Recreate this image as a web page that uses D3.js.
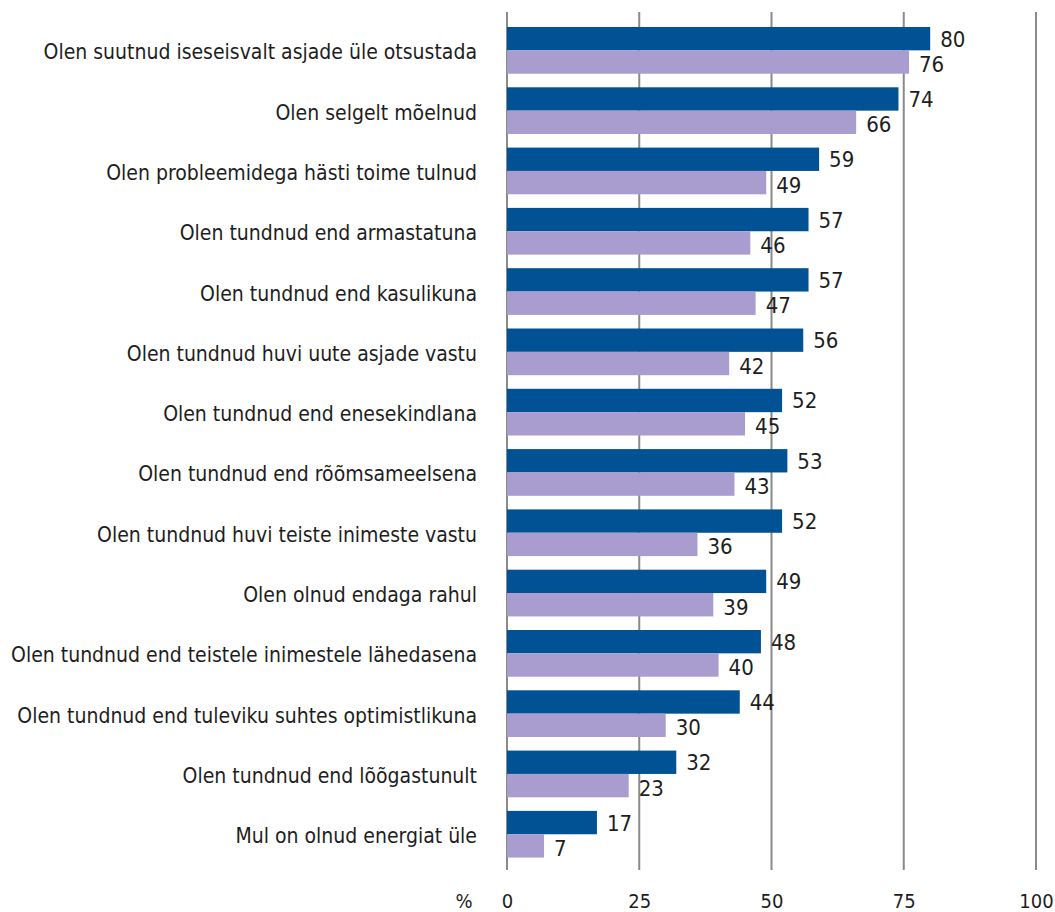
<!DOCTYPE html>
<html>
<head>
<meta charset="utf-8">
<script src="https://cdn.jsdelivr.net/npm/d3@7"></script>
<style>
  html, body { margin: 0; padding: 0; background: #fff; }
  svg text { font-family: "DejaVu Sans Condensed", "Liberation Sans Narrow", "Roboto", sans-serif; fill: #1e1e1e; }
</style>
</head>
<body>
<svg id="chart" width="1055" height="912"></svg>
<script>
// Statements, in display order (top to bottom)
const categories = [
  "Olen suutnud iseseisvalt asjade üle otsustada",
  "Olen selgelt mõelnud",
  "Olen probleemidega hästi toime tulnud",
  "Olen tundnud end armastatuna",
  "Olen tundnud end kasulikuna",
  "Olen tundnud huvi uute asjade vastu",
  "Olen tundnud end enesekindlana",
  "Olen tundnud end rõõmsameelsena",
  "Olen tundnud huvi teiste inimeste vastu",
  "Olen olnud endaga rahul",
  "Olen tundnud end teistele inimestele lähedasena",
  "Olen tundnud end tuleviku suhtes optimistlikuna",
  "Olen tundnud end lõõgastunult",
  "Mul on olnud energiat üle"
];

// Share of respondents (%), first and second group
const valuesA = [80, 74, 59, 57, 57, 56, 52, 53, 52, 49, 48, 44, 32, 17];
const valuesB = [76, 66, 49, 46, 47, 42, 45, 43, 36, 39, 40, 30, 23, 7];

const tickValues = [0, 25, 50, 75, 100];
const axisUnit = "%";

const colors = { A: "#005294", B: "#a99dcf" };

const svg = d3.select("#chart");
const plotTop = 12, plotBottom = 870;
const rowsTop = 27, rowStep = 60.3, pairH = 46.7;

const x = d3.scaleLinear().domain([0, 100]).range([507, 1036]);
const y = d3.scaleBand()
  .domain(categories)
  .range([rowsTop, rowsTop + rowStep * (categories.length - 1) + pairH])
  .paddingInner((rowStep - pairH) / rowStep)
  .paddingOuter(0);

const barH = y.bandwidth() / 2;

// Vertical grid lines
svg.append("g")
  .selectAll("line")
  .data(tickValues)
  .join("line")
  .attr("x1", d => x(d)).attr("x2", d => x(d))
  .attr("y1", plotTop).attr("y2", plotBottom)
  .attr("stroke", "#8a8a8a")
  .attr("stroke-width", 2);

// Bars
const rows = svg.append("g")
  .selectAll("g")
  .data(categories.map((c, i) => ({ c, a: valuesA[i], b: valuesB[i] })))
  .join("g")
  .attr("transform", d => `translate(0,${y(d.c)})`);

rows.append("rect")
  .attr("x", x(0)).attr("y", 0)
  .attr("width", d => x(d.a) - x(0))
  .attr("height", barH)
  .attr("fill", colors.A);

rows.append("rect")
  .attr("x", x(0)).attr("y", barH)
  .attr("width", d => x(d.b) - x(0))
  .attr("height", barH)
  .attr("fill", colors.B);

// Value labels
rows.append("text")
  .attr("x", d => x(d.a) + 10)
  .attr("y", barH / 2 + 2)
  .attr("dominant-baseline", "middle")
  .attr("font-size", 22)
  .text(d => d.a);

rows.append("text")
  .attr("x", d => x(d.b) + 10)
  .attr("y", barH * 1.5 + 4)
  .attr("dominant-baseline", "middle")
  .attr("font-size", 22)
  .text(d => d.b);

// Category labels
rows.append("text")
  .attr("x", 477)
  .attr("y", barH + 3)
  .attr("text-anchor", "end")
  .attr("dominant-baseline", "middle")
  .attr("font-size", 21)
  .text(d => d.c);

// Axis tick labels
const axis = d3.axisBottom(x).tickValues(tickValues).tickSize(0).tickPadding(0);
const axisG = svg.append("g")
  .attr("transform", "translate(0,893)")
  .attr("font-family", null)
  .call(axis);
axisG.select(".domain").remove();
axisG.selectAll("text")
  .attr("font-size", 20)
  .attr("dy", 0)
  .attr("dominant-baseline", "middle")
  .attr("y", 9);

svg.append("text")
  .attr("x", 464)
  .attr("y", 902)
  .attr("text-anchor", "middle")
  .attr("dominant-baseline", "middle")
  .attr("font-size", 20)
  .text(axisUnit);
</script>
</body>
</html>
